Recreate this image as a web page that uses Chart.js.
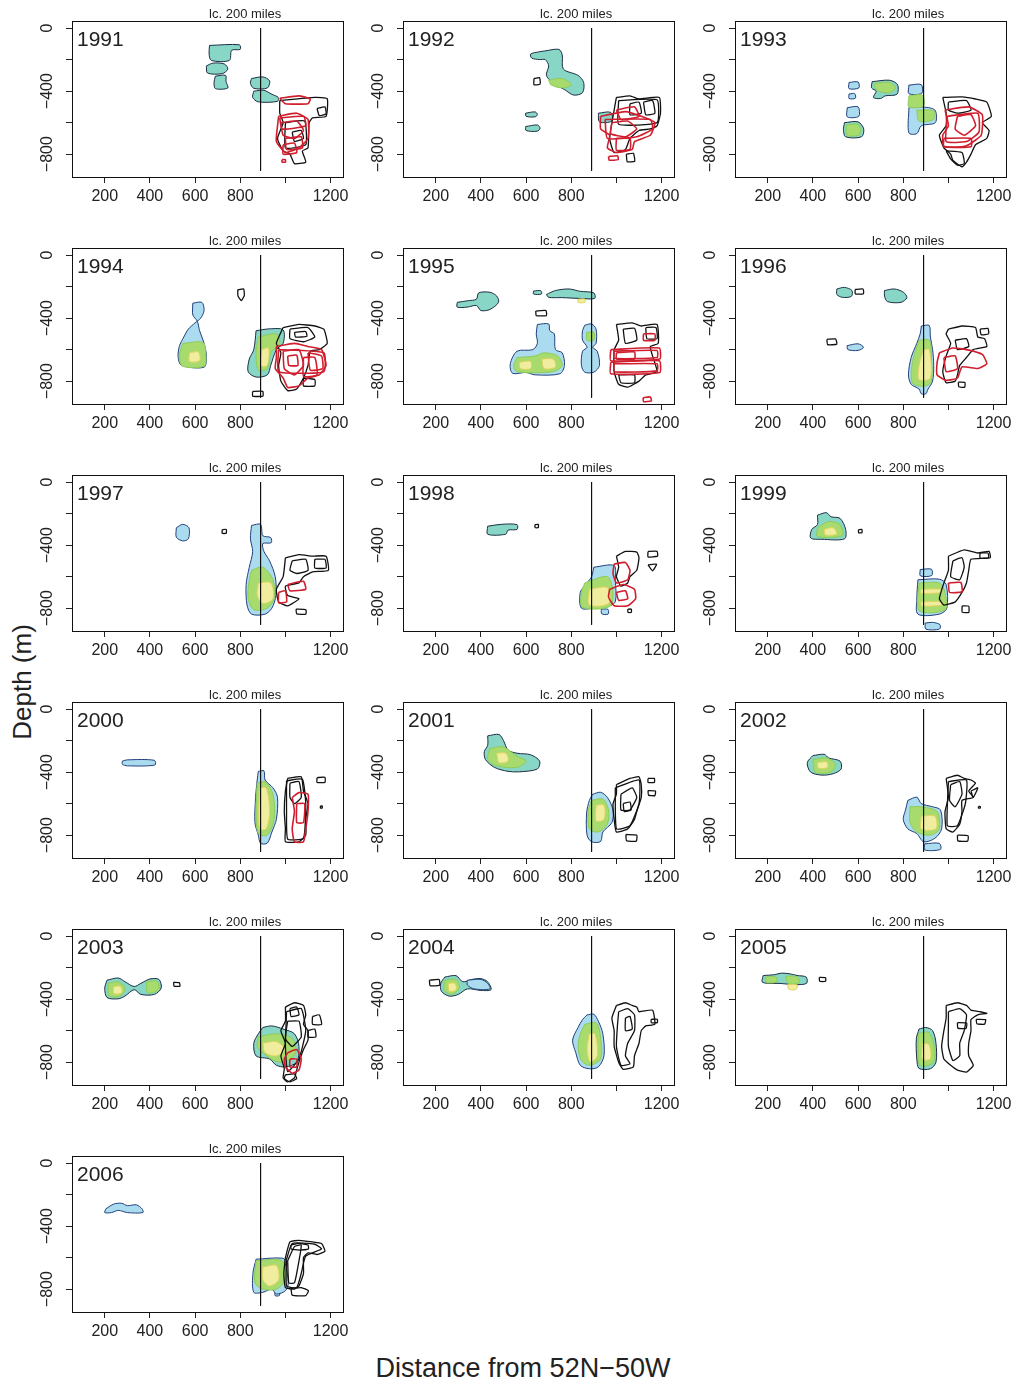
<!DOCTYPE html>
<html>
<head>
<meta charset="utf-8">
<script src="https://cdn.jsdelivr.net/npm/chart.js@4.4.0/dist/chart.umd.min.js"></script>
<style>
  body { margin: 0; background: #fff; width: 1016px; height: 1385px; position: relative; overflow: hidden;
         font-family: "Liberation Sans", Arial, Helvetica, sans-serif; }
  canvas.panel { position: absolute; }
  #ylab { position: absolute; left: 22px; top: 682px; transform: translate(-50%, -50%) rotate(-90deg);
          font-size: 26px; color: #222; white-space: nowrap; }
  #xlab { position: absolute; left: 523px; top: 1368px; transform: translate(-50%, -50%);
          font-size: 27px; color: #222; white-space: nowrap; }
</style>
</head>
<body>
<div id="ylab">Depth (m)</div>
<div id="xlab">Distance from 52N−50W</div>
<script>
// one panel per survey year
const years = [1991, 1992, 1993, 1994, 1995, 1996, 1997, 1998, 1999, 2000, 2001, 2002, 2003, 2004, 2005, 2006];

const xTicks = [200, 400, 600, 800, 1000, 1200];
const xTickLabels = ['200', '400', '600', '800', '', '1200'];
const yTicks = [-800, -600, -400, -200, 0];
const yTickLabels = ['−800', '', '−400', '', '0'];

// 200 mile limit (distance) and its depth span
const limitDistance = 890;
const limitDepths = [0, -905];

// contour outlines, one list per year, each outline is [distance, depth, distance, depth, ...]
const tealPatches = [
  /*1991*/ [[664,-110, 796,-106, 800,-135, 762,-141, 752,-205, 672,-205, 662,-165], [650,-240, 680,-222, 730,-228, 745,-260, 720,-289, 655,-285], [690,-305, 735,-300, 737,-340, 745,-380, 690,-384, 684,-345], [850,-320, 900,-310, 930,-335, 920,-380, 860,-382, 845,-350], [860,-400, 905,-395, 940,-420, 968,-440, 965,-465, 880,-468, 855,-440]],
  /*1992*/ [[683,-145, 745,-135, 760,-170, 765,-260, 830,-300, 855,-345, 850,-410, 810,-425, 770,-390, 720,-350, 690,-300, 700,-240, 685,-200, 660,-200, 625,-190, 620,-165, 660,-150], [598,-540, 640,-532, 650,-548, 640,-563, 600,-560], [598,-625, 650,-615, 662,-635, 650,-654, 600,-650], [920,-540, 975,-535, 980,-590, 925,-595]],
  /*1993*/ [[540,-600, 600,-595, 625,-640, 615,-690, 545,-690, 535,-645], [662,-340, 740,-331, 775,-360, 772,-420, 720,-430, 700,-447, 668,-440, 680,-400, 660,-380]],
  /*1994*/ [[870,-480, 930,-468, 990,-475, 990,-560, 960,-600, 935,-700, 920,-760, 870,-774, 835,-740, 840,-660, 860,-600]],
  /*1995*/ [[295,-300, 340,-290, 380,-280, 390,-240, 440,-236, 470,-260, 478,-300, 440,-345, 400,-352, 380,-320, 340,-330, 295,-330], [633,-228, 665,-226, 668,-247, 633,-247], [690,-250, 730,-225, 790,-215, 840,-230, 900,-240, 904,-275, 840,-275, 760,-270, 700,-268]],
  /*1996*/ [[506,-215, 540,-205, 573,-225, 570,-262, 530,-268, 506,-250], [717,-225, 760,-215, 800,-235, 816,-270, 790,-300, 730,-295, 717,-260]],
  /*1997*/ [],
  /*1998*/ [[430,-280, 490,-268, 560,-270, 560,-300, 520,-305, 510,-331, 430,-331]],
  /*1999*/ [[420,-210, 460,-194, 480,-220, 520,-230, 545,-300, 540,-360, 440,-363, 390,-355, 395,-300, 420,-270]],
  /*2000*/ [],
  /*2001*/ [[430,-170, 480,-161, 500,-200, 520,-260, 560,-280, 620,-290, 660,-330, 650,-380, 570,-398, 520,-395, 460,-370, 420,-320, 415,-270, 430,-230]],
  /*2002*/ [[400,-295, 450,-287, 470,-310, 520,-330, 525,-380, 490,-410, 440,-419, 390,-400, 375,-340]],
  /*2003*/ [[210,-280, 260,-266, 290,-290, 330,-320, 360,-300, 400,-272, 440,-275, 450,-330, 420,-370, 360,-370, 330,-340, 290,-380, 260,-398, 210,-390, 200,-330], [900,-580, 940,-570, 990,-590, 1040,-620, 1060,-700, 1050,-800, 1000,-830, 960,-820, 930,-780, 870,-760, 860,-680, 880,-620]],
  /*2004*/ [[240,-260, 290,-251, 320,-290, 360,-275, 400,-270, 430,-290, 445,-340, 400,-345, 340,-335, 300,-370, 260,-381, 225,-350, 222,-300]],
  /*2005*/ [[180,-250, 230,-245, 260,-235, 300,-240, 330,-250, 370,-260, 372,-300, 320,-308, 250,-300, 200,-300, 175,-290], [870,-590, 900,-580, 930,-600, 945,-680, 945,-800, 920,-842, 870,-840, 860,-780, 858,-650]],
  /*2006*/ []
];

const skyPatches = [
  /*1991*/ [],
  /*1992*/ [],
  /*1993*/ [[560,-345, 600,-342, 603,-380, 560,-384], [560,-418, 585,-416, 588,-445, 560,-447], [552,-505, 600,-500, 603,-560, 552,-563], [825,-362, 880,-359, 882,-414, 825,-416], [825,-505, 880,-500, 940,-520, 942,-600, 880,-620, 860,-670, 825,-665]],
  /*1994*/ [[590,-305, 630,-300, 640,-350, 625,-400, 600,-430, 570,-470, 550,-520, 530,-580, 525,-650, 540,-700, 640,-711, 650,-640, 640,-560, 620,-480, 610,-420, 590,-380]],
  /*1995*/ [[650,-440, 700,-437, 705,-480, 725,-500, 730,-600, 760,-620, 770,-700, 750,-753, 640,-760, 600,-745, 540,-750, 530,-690, 560,-610, 630,-600, 650,-560, 645,-500], [860,-445, 890,-437, 910,-470, 910,-560, 895,-585, 915,-610, 925,-700, 900,-743, 860,-743, 845,-700, 850,-610, 870,-585, 850,-540, 850,-480]],
  /*1996*/ [[551,-575, 600,-563, 624,-585, 600,-605, 555,-600], [880,-450, 915,-447, 920,-520, 930,-600, 935,-700, 930,-800, 910,-850, 900,-880, 880,-880, 870,-850, 835,-820, 823,-760, 835,-650, 860,-560, 875,-500]],
  /*1997*/ [[517,-290, 545,-268, 573,-290, 570,-360, 545,-373, 517,-350], [850,-275, 890,-268, 900,-340, 935,-352, 937,-385, 900,-390, 905,-440, 930,-500, 955,-600, 958,-720, 940,-800, 910,-838, 850,-838, 830,-780, 826,-650, 840,-540, 855,-440, 845,-360]],
  /*1998*/ [[900,-540, 990,-530, 995,-620, 995,-760, 960,-790, 900,-800, 845,-800, 840,-700, 870,-640, 890,-600], [933,-806, 963,-808, 963,-838, 935,-836]],
  /*1999*/ [[875,-555, 925,-553, 926,-593, 876,-595], [865,-620, 960,-616, 990,-650, 993,-800, 960,-838, 865,-838, 860,-740], [897,-895, 930,-890, 963,-905, 960,-933, 900,-933]],
  /*2000*/ [[278,-330, 300,-322, 420,-325, 422,-355, 300,-360, 278,-350], [880,-395, 905,-392, 910,-450, 945,-500, 965,-560, 960,-700, 940,-780, 920,-850, 890,-852, 880,-800, 865,-720, 868,-560, 875,-450]],
  /*2001*/ [[895,-540, 930,-528, 960,-560, 985,-640, 980,-720, 940,-780, 930,-840, 890,-842, 870,-800, 868,-660, 880,-580]],
  /*2002*/ [[820,-580, 860,-559, 880,-600, 930,-620, 965,-640, 970,-760, 940,-820, 890,-842, 860,-790, 820,-760, 800,-700, 810,-640], [895,-855, 960,-852, 965,-890, 895,-894]],
  /*2003*/ [],
  /*2004*/ [[340,-280, 400,-275, 430,-300, 440,-335, 370,-335, 340,-310], [870,-500, 900,-496, 920,-540, 940,-620, 945,-760, 920,-830, 880,-842, 840,-820, 820,-740, 806,-660, 830,-580, 850,-530]],
  /*2005*/ [],
  /*2006*/ [[205,-290, 240,-260, 275,-255, 300,-270, 340,-265, 365,-290, 369,-314, 300,-314, 260,-300, 230,-314, 200,-314], [870,-610, 990,-604, 1000,-640, 1013,-760, 1000,-810, 960,-831, 940,-800, 900,-820, 860,-820, 856,-700], [954,-820, 973,-820, 973,-841, 954,-841]]
];

const greenPatches = [
  /*1991*/ [],
  /*1992*/ [[700,-330, 760,-320, 800,-360, 760,-380, 710,-360]],
  /*1993*/ [[548,-615, 598,-610, 612,-650, 600,-680, 552,-680], [675,-350, 740,-345, 765,-380, 740,-410, 690,-400, 672,-370], [825,-430, 885,-426, 889,-495, 825,-500], [860,-520, 935,-525, 935,-580, 870,-590]],
  /*1994*/ [[545,-560, 635,-555, 648,-640, 640,-705, 545,-705, 530,-640], [880,-520, 960,-500, 975,-560, 935,-620, 920,-720, 880,-730, 870,-620]],
  /*1995*/ [[560,-650, 640,-640, 680,-620, 740,-640, 760,-700, 720,-740, 560,-740, 545,-700], [868,-490, 900,-490, 900,-540, 870,-540]],
  /*1996*/ [[870,-540, 915,-540, 925,-650, 925,-800, 900,-830, 845,-820, 835,-760, 845,-650]],
  /*1997*/ [[850,-560, 900,-540, 945,-620, 950,-740, 920,-800, 860,-810, 835,-740, 838,-640]],
  /*1998*/ [[860,-640, 960,-600, 985,-700, 970,-790, 850,-795, 845,-700]],
  /*1999*/ [[420,-290, 470,-250, 520,-270, 530,-340, 420,-345], [870,-640, 960,-640, 985,-700, 985,-810, 870,-815]],
  /*2000*/ [[875,-470, 910,-460, 945,-540, 950,-700, 920,-800, 880,-790, 870,-650]],
  /*2001*/ [[440,-250, 500,-240, 560,-300, 600,-330, 560,-370, 470,-360, 430,-320], [890,-580, 940,-570, 965,-640, 960,-730, 920,-780, 880,-760, 875,-650]],
  /*2002*/ [[400,-320, 460,-310, 500,-350, 480,-400, 410,-400], [830,-620, 880,-620, 950,-650, 960,-760, 920,-800, 860,-780, 830,-720]],
  /*2003*/ [[215,-300, 260,-290, 290,-330, 270,-380, 220,-380], [385,-290, 430,-285, 440,-340, 390,-360], [880,-640, 960,-620, 1030,-650, 1045,-740, 1000,-800, 950,-790, 900,-740, 875,-700]],
  /*2004*/ [[240,-280, 290,-275, 305,-330, 270,-370, 235,-340], [860,-560, 910,-550, 930,-640, 930,-780, 880,-820, 845,-790, 830,-700, 840,-620]],
  /*2005*/ [[190,-260, 235,-258, 240,-290, 195,-295], [280,-255, 330,-258, 340,-295, 290,-300], [868,-620, 910,-610, 935,-680, 935,-800, 875,-820, 865,-700]],
  /*2006*/ [[870,-620, 985,-620, 1000,-740, 960,-800, 900,-800, 865,-760]]
];

const yellowPatches = [
  /*1991*/ [],
  /*1992*/ [],
  /*1993*/ [],
  /*1994*/ [[575,-620, 615,-615, 620,-670, 575,-675], [895,-600, 925,-590, 920,-700, 890,-700]],
  /*1995*/ [[670,-660, 720,-660, 730,-710, 680,-720], [570,-680, 620,-675, 620,-720, 575,-720], [830,-280, 860,-279, 860,-300, 830,-300]],
  /*1996*/ [[890,-600, 915,-600, 920,-780, 870,-790, 870,-700]],
  /*1997*/ [[880,-640, 935,-640, 945,-740, 900,-770, 875,-720]],
  /*1998*/ [[880,-680, 960,-670, 965,-770, 880,-780]],
  /*1999*/ [[450,-300, 490,-290, 505,-330, 455,-335], [880,-680, 965,-680, 970,-700, 880,-705], [880,-760, 965,-760, 970,-780, 880,-785]],
  /*2000*/ [[885,-500, 915,-500, 930,-650, 915,-760, 885,-760]],
  /*2001*/ [[470,-280, 510,-280, 520,-330, 480,-340], [910,-610, 945,-610, 945,-700, 910,-710]],
  /*2002*/ [[420,-340, 460,-335, 465,-370, 425,-375], [880,-680, 940,-680, 945,-760, 880,-760]],
  /*2003*/ [[240,-320, 270,-320, 275,-360, 240,-365], [900,-680, 960,-670, 1000,-720, 960,-760, 910,-740]],
  /*2004*/ [[255,-300, 285,-300, 290,-340, 260,-350], [880,-620, 905,-620, 915,-760, 885,-800, 870,-720]],
  /*2005*/ [[289,-308, 331,-310, 325,-339, 292,-336], [885,-680, 915,-690, 920,-780, 885,-780]],
  /*2006*/ [[900,-660, 960,-650, 970,-740, 930,-780, 900,-740]]
];

const blackContours = [
  /*1991*/ [[975,-460, 1130,-440, 1185,-448, 1180,-560, 1120,-570, 1105,-600, 1100,-760, 1075,-780, 1090,-850, 1040,-860, 1020,-800, 990,-780, 965,-700, 990,-600, 975,-540], [1030,-660, 1070,-650, 1080,-700, 1040,-720], [1140,-510, 1175,-500, 1180,-545, 1150,-555], [1000,-600, 1085,-590, 1090,-740, 1000,-760]],
  /*1992*/ [[1000,-440, 1060,-430, 1100,-450, 1190,-440, 1195,-540, 1180,-620, 1150,-640, 1100,-650, 1060,-700, 1040,-770, 990,-790, 970,-700, 985,-560], [1060,-480, 1100,-470, 1110,-540, 1060,-550], [1120,-470, 1160,-460, 1170,-540, 1130,-550], [1044,-800, 1075,-795, 1081,-845, 1048,-848], [635,-320, 660,-315, 662,-355, 635,-360], [1010,-460, 1180,-455, 1180,-600, 1010,-610]],
  /*1993*/ [[975,-440, 1060,-437, 1120,-450, 1170,-470, 1190,-560, 1150,-600, 1180,-650, 1170,-700, 1120,-740, 1100,-800, 1080,-850, 1060,-880, 1020,-840, 1010,-800, 980,-760, 960,-680, 990,-620, 990,-540], [1000,-470, 1080,-460, 1100,-520, 1040,-540, 1000,-520], [990,-780, 1060,-790, 1070,-860, 1040,-870, 1010,-830]],
  /*1994*/ [[789,-220, 815,-215, 818,-255, 805,-289, 790,-260], [855,-865, 900,-865, 900,-895, 855,-895], [990,-460, 1060,-440, 1130,-450, 1170,-470, 1185,-560, 1150,-600, 1110,-610, 1100,-700, 1080,-780, 1050,-850, 1010,-860, 980,-800, 970,-700, 980,-620, 960,-560], [1020,-470, 1100,-460, 1130,-520, 1080,-550, 1020,-530], [1040,-490, 1090,-485, 1095,-515, 1045,-520], [1080,-780, 1130,-790, 1130,-830, 1080,-830]],
  /*1995*/ [[643,-355, 688,-352, 690,-384, 645,-384], [1000,-440, 1070,-430, 1110,-450, 1180,-440, 1185,-560, 1150,-580, 1160,-640, 1180,-740, 1130,-760, 1100,-800, 1050,-838, 1010,-820, 990,-740, 990,-600, 1010,-540], [1030,-470, 1080,-465, 1090,-540, 1040,-560], [1130,-460, 1175,-460, 1180,-530, 1135,-530], [1010,-760, 1080,-760, 1080,-810, 1020,-810]],
  /*1996*/ [[587,-218, 622,-215, 624,-245, 588,-247], [462,-535, 500,-532, 506,-565, 465,-568], [1000,-470, 1060,-450, 1120,-460, 1130,-520, 1160,-530, 1170,-580, 1110,-600, 1080,-650, 1050,-700, 1040,-760, 1030,-800, 990,-810, 975,-740, 990,-640, 1010,-560, 990,-500], [1030,-540, 1080,-530, 1090,-580, 1040,-600], [1140,-470, 1175,-465, 1178,-500, 1145,-505], [1044,-806, 1073,-808, 1072,-838, 1046,-836]],
  /*1997*/ [[720,-302, 738,-300, 738,-325, 720,-325], [1000,-480, 1060,-460, 1120,-470, 1180,-470, 1190,-560, 1120,-570, 1080,-600, 1060,-640, 1000,-660, 1010,-720, 1060,-740, 1010,-785, 970,-760, 960,-680, 990,-600], [1030,-500, 1090,-490, 1100,-560, 1050,-580, 1020,-560], [1130,-490, 1175,-490, 1180,-545, 1130,-545], [1047,-806, 1091,-810, 1090,-838, 1050,-836]],
  /*1998*/ [[639,-270, 654,-268, 654,-289, 640,-289], [1000,-470, 1040,-440, 1090,-445, 1100,-480, 1090,-560, 1060,-600, 1050,-640, 1020,-660, 1000,-600, 1010,-540], [1140,-440, 1180,-440, 1182,-470, 1140,-475], [1140,-525, 1178,-521, 1160,-563], [1051,-806, 1066,-806, 1066,-827, 1051,-827]],
  /*1999*/ [[602,-302, 617,-300, 617,-321, 602,-321], [1000,-470, 1070,-430, 1130,-450, 1180,-440, 1185,-480, 1100,-490, 1090,-560, 1080,-640, 1060,-700, 1030,-760, 980,-780, 960,-740, 980,-640, 1000,-560], [1020,-500, 1060,-480, 1070,-540, 1050,-620, 1010,-600], [1140,-450, 1175,-450, 1178,-480, 1140,-482], [1061,-785, 1090,-787, 1090,-827, 1061,-825]],
  /*2000*/ [[1010,-440, 1070,-430, 1080,-520, 1100,-600, 1090,-700, 1090,-800, 1060,-842, 1000,-842, 1000,-760, 995,-650, 1000,-520], [1020,-470, 1060,-460, 1070,-560, 1040,-600, 1020,-560], [1140,-435, 1175,-433, 1175,-465, 1140,-465], [1155,-615, 1163,-615, 1163,-628, 1155,-628], [1005,-455, 1075,-445, 1090,-600, 1080,-820, 1010,-825, 1005,-650]],
  /*2001*/ [[1000,-480, 1060,-440, 1100,-430, 1110,-480, 1110,-560, 1090,-650, 1080,-700, 1050,-760, 1000,-780, 990,-700, 985,-600, 1000,-540], [1020,-540, 1070,-500, 1090,-560, 1060,-640, 1020,-640], [1030,-600, 1060,-590, 1065,-640, 1035,-650], [1140,-440, 1168,-440, 1168,-465, 1140,-465], [1140,-517, 1173,-520, 1170,-549, 1142,-546], [1042,-796, 1090,-800, 1088,-838, 1045,-836], [995,-500, 1100,-450, 1100,-600, 1060,-740, 1000,-760]],
  /*2002*/ [[990,-440, 1040,-420, 1070,-440, 1100,-450, 1120,-470, 1090,-520, 1110,-560, 1060,-580, 1060,-650, 1050,-730, 1020,-780, 990,-760, 985,-650, 1000,-560], [1010,-480, 1050,-460, 1060,-540, 1030,-620, 1005,-580], [1100,-520, 1130,-500, 1110,-560], [1040,-800, 1087,-804, 1085,-838, 1042,-836], [1133,-618, 1141,-618, 1141,-628, 1133,-628], [1000,-460, 1080,-450, 1075,-600, 1040,-740, 995,-740]],
  /*2003*/ [[1000,-450, 1040,-423, 1080,-440, 1090,-500, 1080,-560, 1100,-600, 1100,-660, 1080,-720, 1060,-800, 1050,-850, 1040,-900, 1010,-925, 990,-900, 995,-840, 980,-760, 1000,-680, 980,-600, 1000,-540], [1020,-460, 1050,-450, 1060,-500, 1025,-510], [1010,-540, 1060,-540, 1070,-640, 1030,-700, 1000,-650], [1120,-510, 1150,-500, 1160,-560, 1120,-560], [1100,-600, 1130,-590, 1135,-640, 1100,-640], [505,-293, 530,-295, 533,-318, 507,-318], [1000,-880, 1040,-875, 1050,-905, 1020,-925, 995,-905], [1005,-480, 1070,-460, 1090,-600, 1060,-780, 1010,-860, 1000,-700]],
  /*2004*/ [[172,-280, 215,-276, 217,-312, 175,-314], [1000,-440, 1040,-423, 1070,-440, 1090,-450, 1100,-480, 1160,-470, 1170,-560, 1130,-570, 1110,-600, 1100,-680, 1080,-760, 1075,-830, 1030,-846, 1010,-800, 990,-700, 990,-600, 980,-520], [1010,-480, 1050,-460, 1080,-500, 1080,-600, 1050,-680, 1040,-760, 1060,-810, 1020,-820, 1000,-700, 1005,-560], [1040,-520, 1060,-510, 1070,-590, 1040,-600], [1154,-528, 1181,-528, 1181,-549, 1154,-549]],
  /*2005*/ [[428,-262, 456,-264, 456,-287, 430,-287], [990,-440, 1040,-423, 1080,-440, 1100,-470, 1140,-480, 1170,-490, 1130,-500, 1100,-530, 1100,-600, 1090,-680, 1090,-760, 1110,-820, 1080,-863, 1040,-850, 1010,-820, 980,-780, 970,-700, 980,-600, 990,-520], [1000,-480, 1050,-460, 1080,-500, 1070,-600, 1050,-680, 1050,-760, 1020,-790, 1000,-700, 1000,-560], [1040,-549, 1081,-552, 1078,-586, 1042,-584], [1123,-528, 1165,-530, 1160,-559, 1126,-556]],
  /*2006*/ [[1000,-600, 1020,-500, 1060,-490, 1120,-500, 1160,-510, 1175,-560, 1140,-580, 1100,-570, 1080,-600, 1080,-700, 1060,-780, 1040,-800, 1000,-790, 993,-700], [1010,-620, 1040,-530, 1070,-520, 1060,-620, 1040,-760, 1015,-760], [1025,-520, 1060,-510, 1100,-520, 1102,-545, 1060,-552, 1025,-545], [1025,-795, 1070,-790, 1102,-810, 1090,-841, 1030,-838], [1005,-610, 1030,-510, 1130,-515, 1160,-545, 1090,-590, 1070,-700, 1050,-790, 1005,-780]]
];

const redContours = [
  /*1991*/ [[975,-445, 1060,-430, 1110,-450, 1100,-480, 1000,-480], [970,-560, 1050,-540, 1100,-580, 1100,-700, 1060,-760, 1000,-790, 960,-720, 965,-620], [980,-600, 1050,-590, 1080,-650, 1040,-700, 990,-680], [990,-740, 1040,-730, 1050,-790, 990,-800], [985,-835, 1000,-835, 1000,-850, 985,-850], [975,-570, 1080,-560, 1090,-620, 985,-640], [1000,-700, 1070,-690, 1075,-760, 1005,-770]],
  /*1992*/ [[930,-560, 1040,-530, 1110,-560, 1170,-600, 1150,-680, 1080,-720, 1070,-770, 1000,-790, 960,-760, 970,-680, 930,-640], [980,-600, 1050,-590, 1090,-640, 1040,-690, 975,-670], [1000,-520, 1080,-500, 1100,-560, 1020,-580], [965,-815, 1005,-810, 1008,-835, 968,-838], [950,-580, 1150,-580, 1160,-640, 1090,-690, 960,-700], [1000,-700, 1060,-700, 1060,-770, 1000,-775]],
  /*1993*/ [[985,-520, 1090,-500, 1150,-550, 1145,-680, 1090,-740, 1060,-753, 980,-750, 975,-680, 1000,-620], [1040,-560, 1100,-550, 1120,-620, 1070,-680, 1030,-640], [995,-560, 1130,-540, 1135,-660, 1080,-720, 990,-720], [980,-700, 1100,-700, 1100,-753, 980,-753]],
  /*1994*/ [[960,-580, 1040,-560, 1100,-580, 1160,-600, 1180,-700, 1150,-760, 1100,-780, 1060,-830, 1010,-840, 990,-780, 955,-720, 960,-650], [990,-610, 1060,-600, 1080,-700, 1040,-760, 995,-720], [1010,-640, 1050,-635, 1055,-700, 1015,-700], [1100,-620, 1160,-640, 1165,-720, 1110,-730], [970,-600, 1170,-620, 1170,-740, 970,-740], [1080,-650, 1130,-650, 1140,-760, 1080,-770]],
  /*1995*/ [[975,-600, 1190,-590, 1192,-660, 975,-670], [975,-680, 1190,-670, 1192,-745, 975,-753], [1000,-620, 1080,-615, 1080,-660, 1000,-660], [1120,-500, 1170,-500, 1170,-540, 1120,-540], [1118,-905, 1150,-900, 1155,-925, 1120,-930], [990,-610, 1180,-605, 1180,-650, 990,-655], [990,-690, 1180,-690, 1180,-735, 990,-740]],
  /*1996*/ [[960,-620, 1020,-590, 1080,-600, 1150,-630, 1170,-690, 1130,-720, 1060,-710, 1040,-780, 990,-795, 950,-760, 950,-680], [980,-650, 1030,-640, 1040,-720, 990,-740]],
  /*1997*/ [[1010,-650, 1080,-630, 1090,-680, 1020,-690], [970,-700, 1000,-690, 1005,-760, 970,-765]],
  /*1998*/ [[990,-520, 1040,-510, 1060,-560, 1050,-620, 1000,-640, 985,-580], [970,-680, 1030,-650, 1080,-680, 1085,-740, 1050,-785, 990,-785, 965,-730], [1000,-700, 1040,-690, 1050,-740, 1010,-750]],
  /*1999*/ [[1000,-640, 1055,-637, 1060,-695, 1005,-700]],
  /*2000*/ [[1030,-560, 1060,-530, 1100,-540, 1100,-650, 1090,-760, 1080,-842, 1040,-842, 1030,-760, 1040,-650], [1050,-600, 1085,-600, 1080,-720, 1050,-720]],
  /*2001*/ [],
  /*2002*/ [],
  /*2003*/ [[1010,-740, 1050,-720, 1070,-780, 1060,-850, 1030,-870, 1000,-830, 995,-780], [1020,-780, 1050,-780, 1050,-830, 1020,-830]],
  /*2004*/ [],
  /*2005*/ [],
  /*2006*/ []
];

const fontFamily = '"Liberation Sans", Arial, Helvetica, sans-serif';
const panelLefts = [27, 358, 690];
const panelTops = [1, 228, 455, 682, 909, 1136];

const layerStyles = {
  teal:   { fill: '#88d6c6', edge: '#1c2e44', width: 1,   order: 5, tension: 0.3 },
  sky:    { fill: '#aadbef', edge: '#23407c', width: 1,   order: 4, tension: 0.3 },
  green:  { fill: '#a7db6d', edge: '#8fcc58', width: 1,   order: 3, tension: 0.3 },
  yellow: { fill: '#f1ed9f', edge: '#e0d460', width: 1,   order: 2, tension: 0.3 },
  black:  { fill: null,      edge: '#111111', width: 1.3, order: 1, tension: 0.15 },
  red:    { fill: null,      edge: '#d01e2e', width: 1.6, order: 0, tension: 0.15 }
};

function closedPath(flat) {
  const pts = [];
  for (let i = 0; i < flat.length; i += 2) pts.push({ x: flat[i], y: flat[i + 1] });
  pts.push({ x: flat[0], y: flat[1] });
  return pts;
}

function layer(polys, style) {
  return polys.map(p => ({
    data: closedPath(p),
    fill: style.fill ? 'shape' : false,
    backgroundColor: style.fill || 'rgba(0,0,0,0)',
    borderColor: style.edge,
    borderWidth: style.width,
    pointRadius: 0,
    tension: style.tension,
    order: style.order
  }));
}

// box, year and the limit note
const panelDecor = {
  id: 'panelDecor',
  afterDraw(chart, args, opts) {
    const { ctx, chartArea: a, scales } = chart;
    ctx.save();
    ctx.strokeStyle = '#111';
    ctx.lineWidth = 1;
    ctx.strokeRect(Math.round(a.left) + 0.5, Math.round(a.top) + 0.5, Math.round(a.width), Math.round(a.height));
    ctx.fillStyle = '#222';
    ctx.font = '21px ' + fontFamily;
    ctx.textAlign = 'left';
    ctx.textBaseline = 'middle';
    ctx.fillText(opts.year, a.left + 5, a.top + 19);
    ctx.font = '13px ' + fontFamily;
    ctx.textAlign = 'center';
    ctx.textBaseline = 'alphabetic';
    ctx.fillText('lc. 200 miles', scales.x.getPixelForValue(822), a.top - 3);
    ctx.restore();
  }
};

years.forEach((year, i) => {
  const canvas = document.createElement('canvas');
  canvas.className = 'panel';
  canvas.width = 321;
  canvas.height = 208;
  canvas.style.left = panelLefts[i % 3] + 'px';
  canvas.style.top = panelTops[Math.floor(i / 3)] + 'px';
  document.body.appendChild(canvas);

  const datasets = [
    {
      data: limitDepths.map(d => ({ x: limitDistance, y: d })),
      borderColor: '#111',
      borderWidth: 1,
      pointRadius: 0,
      fill: false,
      order: 0
    },
    ...layer(redContours[i], layerStyles.red),
    ...layer(blackContours[i], layerStyles.black),
    ...layer(yellowPatches[i], layerStyles.yellow),
    ...layer(greenPatches[i], layerStyles.green),
    ...layer(skyPatches[i], layerStyles.sky),
    ...layer(tealPatches[i], layerStyles.teal)
  ];

  new Chart(canvas, {
    type: 'line',
    data: { datasets },
    plugins: [panelDecor],
    options: {
      responsive: false,
      animation: false,
      events: [],
      layout: { padding: { top: 20, right: 5, left: 0, bottom: 0 } },
      plugins: {
        legend: { display: false },
        tooltip: { enabled: false },
        panelDecor: { year: String(year) }
      },
      scales: {
        x: {
          type: 'linear',
          min: 55,
          max: 1255,
          afterBuildTicks: s => { s.ticks = xTicks.map(v => ({ value: v })); },
          afterFit: s => { s.height = 32; s.paddingLeft = 0; s.paddingRight = 0; },
          border: { display: false },
          grid: { drawOnChartArea: false, drawTicks: true, tickLength: 6, color: '#222' },
          ticks: {
            autoSkip: false,
            maxRotation: 0,
            padding: 4,
            color: '#222',
            font: { family: fontFamily, size: 16 },
            callback: (v, idx) => xTickLabels[idx]
          }
        },
        y: {
          type: 'linear',
          min: -945,
          max: 45,
          afterBuildTicks: s => { s.ticks = yTicks.map(v => ({ value: v })); },
          afterFit: s => { s.width = 45; s.paddingTop = 0; s.paddingBottom = 0; },
          border: { display: false },
          grid: { drawOnChartArea: false, drawTicks: true, tickLength: 6, color: '#222' },
          ticks: {
            autoSkip: false,
            minRotation: 90,
            maxRotation: 90,
            crossAlign: 'center',
            padding: 0,
            color: '#222',
            font: { family: fontFamily, size: 16 },
            callback: (v, idx) => yTickLabels[idx]
          }
        }
      }
    }
  });
});
</script>
</body>
</html>
